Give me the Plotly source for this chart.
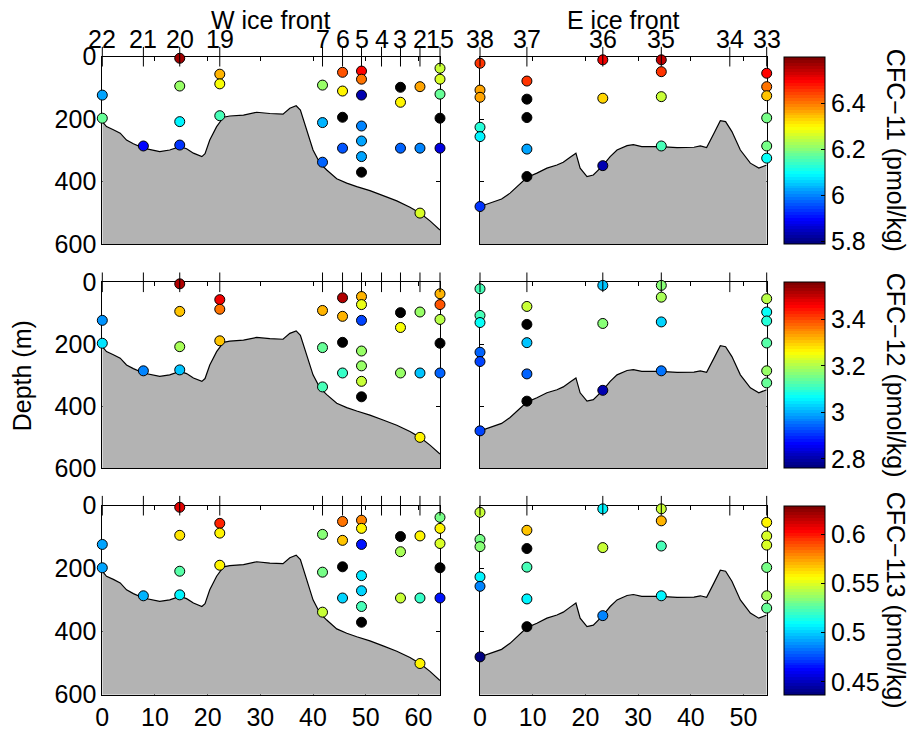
import plotly.graph_objects as go

# ---------------- data ----------------
W_station_labels = ["22", "21", "20", "19", "7", "6", "5", "4", "3", "2", "15"]
W_station_dist = [0.0, 7.8, 14.7, 22.3, 41.8, 45.6, 49.2, 53.0, 56.6, 60.3, 64.1]
E_station_labels = ["38", "37", "36", "35", "34", "33"]
E_station_dist = [0.0, 8.9, 23.3, 34.4, 47.4, 54.4]

# W ice front samples
W_dist = [0.0, 0.0,
          7.8,
          14.7, 14.7, 14.7, 14.7,
          22.3, 22.3, 22.3,
          41.8, 41.8, 41.8,
          45.6, 45.6, 45.6, 45.6,
          49.2, 49.2, 49.2, 49.2, 49.2, 49.2, 49.2,
          56.6, 56.6, 56.6,
          60.3, 60.3, 60.3,
          64.1, 64.1, 64.1, 64.1, 64.1]
W_depth = [123, 197,
           286,
           5, 94, 208, 283,
           56, 87, 189,
           91, 211, 338,
           50, 110, 194, 293,
           46, 72, 123, 222, 270, 320, 370,
           98, 146, 293,
           96, 293, 501,
           37, 72, 120, 197, 293]
W_cfc11 = [6.02, 6.17,
           5.90,
           6.57, 6.22, 6.09, 5.94,
           6.35, 6.29, 6.15,
           6.21, 6.04, 5.97,
           6.43, 6.30, None, 5.96,
           6.49, 6.41, 5.84, 6.00, 6.02, 6.02, None,
           None, 6.30, 5.97,
           6.36, 6.00, 6.26,
           6.25, 6.27, 6.18, None, 5.87]
W_cfc12 = [2.98, 3.04,
           2.96,
           3.52, 3.30, 3.19, 3.02,
           3.46, 3.36, 3.30,
           3.31, 3.14, 3.12,
           3.51, 3.32, None, 3.10,
           3.31, 3.24, 2.92, 3.18, 3.18, 3.22, None,
           None, 3.25, 3.18,
           3.18, 3.02, 3.26,
           3.31, 3.39, 3.20, None, 2.94]
W_cfc113 = [0.493, 0.493,
            0.495,
            0.610, 0.560, 0.525, 0.506,
            0.596, 0.558, 0.558,
            0.533, 0.530, 0.545,
            0.583, 0.567, None, 0.500,
            0.580, 0.557, 0.464, 0.503, 0.500, 0.521, None,
            None, 0.540, 0.545,
            0.557, 0.518, 0.557,
            0.530, 0.557, 0.550, None, 0.464]

# E ice front samples
E_dist = [0.0, 0.0, 0.0, 0.0, 0.0, 0.0,
          8.9, 8.9, 8.9, 8.9, 8.9,
          23.3, 23.3, 23.3,
          34.4, 34.4, 34.4, 34.4,
          54.4, 54.4, 54.4, 54.4, 54.4, 54.4]
E_depth = [21, 107, 130, 226, 256, 480,
           78, 136, 195, 296, 384,
           10, 133, 349,
           10, 48, 128, 286,
           53, 96, 125, 196, 286, 325]
E_cfc11 = [6.46, 6.37, 6.36, 6.13, 6.09, 5.94,
           6.45, None, None, 6.02, None,
           6.51, 6.33, 5.84,
           6.54, 6.46, 6.25, 6.15,
           6.49, 6.41, 6.34, 6.19, 6.19, 6.10]
E_cfc12 = [3.12, 3.11, 3.07, 2.94, 2.92, 2.92,
           3.21, None, 3.02, 2.94, None,
           3.02, 3.17, 2.80,
           3.17, 3.19, 3.03, 2.95,
           3.20, 3.07, 3.09, 3.13, 3.18, 3.14]
E_cfc113 = [0.545, 0.530, 0.534, 0.506, 0.486, 0.439,
            0.567, None, 0.522, 0.508, None,
            0.508, 0.545, 0.485,
            0.547, 0.569, 0.521, 0.506,
            0.557, 0.550, 0.550, 0.530, 0.540, 0.528]

# bathymetry (distance km, depth m)
W_bathy_x = [0, 0.8, 2.1, 3.4, 4.6, 5.9, 7.8, 9.7, 10.9, 12.8, 14.7, 16.0, 17.3, 18.9,
             19.5, 20.4, 21.7, 23.0, 24.2, 26.8, 29.3, 31.8, 34.3, 35.6, 36.8, 37.6,
             38.8, 40.0, 41.3, 42.6, 44.5, 46.4, 48.3, 50.8, 53.3, 55.9, 58.4, 60.3,
             62.2, 64.1]
W_bathy_z = [208, 224, 234, 245, 267, 279, 293, 300, 304, 299, 288, 295, 309, 320,
             311, 267, 224, 194, 190, 187, 178, 182, 184, 165, 157, 171,
             234, 299, 341, 363, 391, 405, 416, 429, 445, 462, 482, 501,
             526, 555]
E_bathy_x = [0, 1.9, 4.1, 5.7, 7.3, 8.9, 10.8, 12.7, 14.6, 15.8, 17.1, 18.2, 19.0,
             20.3, 21.5, 23.3, 24.7, 26.0, 27.9, 29.1, 30.7, 34.2, 37.4, 40.6, 41.8,
             43.0, 44.4, 45.6, 46.6, 47.8, 49.4, 51.3, 52.9, 54.4]
E_bathy_z = [480, 469, 456, 437, 411, 387, 373, 357, 347, 338, 322, 309, 357,
             384, 379, 349, 320, 299, 285, 282, 288, 288, 291, 290, 286,
             291, 245, 205, 208, 240, 299, 341, 357, 347]

tracer_names = ["CFC\u221211 (pmol/kg)", "CFC\u221212 (pmol/kg)", "CFC\u2212113 (pmol/kg)"]
tracer_ranges = [(5.79, 6.60), (2.76, 3.56), (0.437, 0.629)]
tracer_ticks = [[5.8, 6.0, 6.2, 6.4], [2.8, 3.0, 3.2, 3.4], [0.45, 0.5, 0.55, 0.6]]
tracer_ticktext = [["5.8", "6", "6.2", "6.4"], ["2.8", "3", "3.2", "3.4"],
                   ["0.45", "0.5", "0.55", "0.6"]]
depth_ticks = [0, 200, 400, 600]
dist_ticks = [0, 10, 20, 30, 40, 50, 60]

# ---------------- style ----------------
FONT = "Liberation Sans, Arial, sans-serif"
FS = 25
W_PX, H_PX = 910, 732
DEPTH_MAX = 600


def jet(t):
    def c(v):
        return max(0.0, min(1.0, v))
    r = c(1.5 - abs(4 * t - 3))
    g = c(1.5 - abs(4 * t - 2))
    b = c(1.5 - abs(4 * t - 1))
    return "rgb(%d,%d,%d)" % (round(r * 255), round(g * 255), round(b * 255))


N = 64
jet_scale = []
for i in range(N):
    col = jet(i / (N - 1))
    jet_scale.append([i / N, col])
    jet_scale.append([(i + 1) / N, col])


def px_y(py):
    return 1 - py / H_PX


def px_x(px):
    return px / W_PX


row_dom = [(px_y(244.0), px_y(56.7)), (px_y(468.0), px_y(282.3)), (px_y(694.7), px_y(505.7))]
col_dom = [(px_x(102.3), px_x(440.0)), (px_x(480.0), px_x(766.7))]

sections = [
    dict(st_lab=W_station_labels, st_x=W_station_dist, dist=W_dist, depth=W_depth,
         vals=[W_cfc11, W_cfc12, W_cfc113], bx=W_bathy_x, bz=W_bathy_z, title="W ice front"),
    dict(st_lab=E_station_labels, st_x=E_station_dist, dist=E_dist, depth=E_depth,
         vals=[E_cfc11, E_cfc12, E_cfc113], bx=E_bathy_x, bz=E_bathy_z, title="E ice front"),
]

fig = go.Figure()
layout = dict(
    width=W_PX, height=H_PX,
    margin=dict(l=0, r=0, t=0, b=0, autoexpand=False),
    paper_bgcolor="white", plot_bgcolor="white",
    showlegend=False,
    font=dict(family=FONT, size=FS, color="black"),
)
annotations = []

for r in range(3):
    cmin, cmax = tracer_ranges[r]
    layout["coloraxis%s" % ("" if r == 0 else r + 1)] = dict(
        colorscale=jet_scale, cmin=cmin, cmax=cmax,
        colorbar=dict(
            x=px_x(784), xanchor="left", xpad=0, ypad=0,
            y=(row_dom[r][0] + row_dom[r][1]) / 2, yanchor="middle",
            len=row_dom[r][1] - row_dom[r][0], lenmode="fraction",
            thickness=41, thicknessmode="pixels",
            outlinewidth=1, outlinecolor="black",
            ticks="inside", ticklen=4, tickcolor="black",
            tickvals=tracer_ticks[r], ticktext=tracer_ticktext[r],
            tickfont=dict(family=FONT, size=FS, color="black"),
        ),
    )
    annotations.append(dict(
        text=tracer_names[r], xref="paper", yref="paper",
        x=px_x(895.5), y=(row_dom[r][0] + row_dom[r][1]) / 2,
        xanchor="center", yanchor="middle", textangle=90, showarrow=False,
        font=dict(family=FONT, size=FS, color="black"),
    ))
    for c in range(2):
        s = sections[c]
        idx = r * 2 + c + 1
        sfx = "" if idx == 1 else str(idx)
        xref, yref = "x" + sfx, "y" + sfx
        xmax = max(s["st_x"])
        layout["xaxis" + sfx] = dict(
            domain=list(col_dom[c]), range=[0, xmax], anchor=yref,
            showline=True, linecolor="black", linewidth=1, mirror="ticks",
            ticks="inside", ticklen=4, tickcolor="black",
            tickvals=dist_ticks, showticklabels=(r == 2),
            tickfont=dict(family=FONT, size=FS, color="black"),
            showgrid=False, zeroline=False, layer="below traces", fixedrange=True,
        )
        layout["yaxis" + sfx] = dict(
            domain=list(row_dom[r]), range=[DEPTH_MAX, 0], anchor=xref,
            showline=True, linecolor="black", linewidth=1, mirror="ticks",
            ticks="inside", ticklen=4, tickcolor="black",
            tickvals=depth_ticks, showticklabels=(c == 0),
            tickfont=dict(family=FONT, size=FS, color="black"),
            showgrid=False, zeroline=False, layer="below traces", fixedrange=True,
        )
        # seabed patch
        fig.add_trace(go.Scatter(
            x=s["bx"] + [max(s["bx"]), min(s["bx"])],
            y=s["bz"] + [DEPTH_MAX, DEPTH_MAX],
            fill="toself", fillcolor="#b3b3b3", mode="lines",
            line=dict(width=0, color="#b3b3b3"),
            xaxis=xref, yaxis=yref, hoverinfo="skip",
        ))
        fig.add_trace(go.Scatter(
            x=s["bx"], y=s["bz"], mode="lines",
            line=dict(width=1.2, color="black"),
            xaxis=xref, yaxis=yref, hoverinfo="skip",
        ))
        vals = s["vals"][r]
        gx = [d for d, v in zip(s["dist"], vals) if v is not None]
        gy = [z for z, v in zip(s["depth"], vals) if v is not None]
        gv = [v for v in vals if v is not None]
        nx = [d for d, v in zip(s["dist"], vals) if v is None]
        ny = [z for z, v in zip(s["depth"], vals) if v is None]
        fig.add_trace(go.Scatter(
            x=gx, y=gy, mode="markers", cliponaxis=False,
            marker=dict(size=10, color=gv, coloraxis="coloraxis" + ("" if r == 0 else str(r + 1)),
                        line=dict(width=1, color="black")),
            xaxis=xref, yaxis=yref,
        ))
        fig.add_trace(go.Scatter(
            x=nx, y=ny, mode="markers", cliponaxis=False,
            marker=dict(size=10, color="black", line=dict(width=1, color="black")),
            xaxis=xref, yaxis=yref,
        ))
        # station ticks on the top edge
        fig.add_trace(go.Scatter(
            x=s["st_x"], y=[0] * len(s["st_x"]), mode="markers", cliponaxis=False,
            marker=dict(symbol="line-ns", size=14, line=dict(width=1, color="black")),
            xaxis=xref, yaxis=yref, hoverinfo="skip",
        ))
        if r == 0:
            for lab, xv in zip(s["st_lab"], s["st_x"]):
                annotations.append(dict(
                    text=lab, xref=xref, yref="paper", x=xv, y=px_y(39),
                    xanchor="center", yanchor="middle", showarrow=False,
                    font=dict(family=FONT, size=FS, color="black"),
                ))
            annotations.append(dict(
                text=s["title"], xref="paper", yref="paper",
                x=(col_dom[c][0] + col_dom[c][1]) / 2, y=px_y(20.3),
                xanchor="center", yanchor="middle", showarrow=False,
                font=dict(family=FONT, size=FS, color="black"),
            ))

annotations.append(dict(
    text="Depth (m)", xref="paper", yref="paper", x=px_x(22.3), y=px_y(376),
    xanchor="center", yanchor="middle", textangle=-90, showarrow=False,
    font=dict(family=FONT, size=FS, color="black"),
))
layout["annotations"] = annotations
fig.update_layout(**layout)
fig.write_html("out.html")
